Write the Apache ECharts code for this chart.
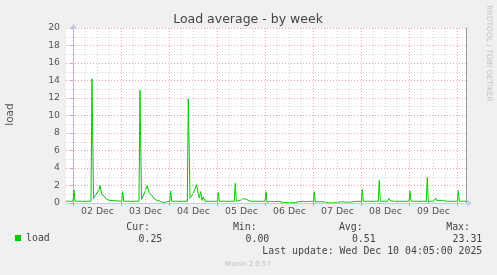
<!DOCTYPE html>
<html><head><meta charset="utf-8">
<script src="https://cdn.jsdelivr.net/npm/echarts@6/dist/echarts.min.js"></script>
<style>html,body{margin:0;padding:0;background:#f0f0f0}#c{width:497px;height:275px}</style>
</head><body><div id="c"></div>
<script>
// hours relative to 02 Dec 00:00
const hours = [-3.75,-0.25,0.25,0.75,3.75,4.25,4.75,8.75,9.25,10.0,10.75,11.25,11.9,12.6,13.25,14.1,14.6,15.25,15.75,16.6,17.4,18.25,19.1,
  24.1,24.6,25.1,32.75,33.25,34.0,35.0,35.75,36.9,37.75,38.6,39.4,40.25,41.6,42.75,43.75,44.9,45.75,
  48.1,48.6,49.1,56.9,57.4,58.25,59.0,59.9,60.75,61.6,62.4,62.9,63.6,64.25,64.9,65.75,66.6,67.4,68.25,69.1,
  71.9,72.4,72.9,80.4,80.9,81.4,82.4,83.4,84.9,85.9,86.6,88.25,
  95.75,96.25,96.75,97.5,98.5,99.5,100.5,101.5,102.5,103.5,105,108,111,112.5,113.5,114.5,115.5,116.5,117.5,118.5,119.9,
  120.4,120.9,122,123,124.5,126,127.5,129.5,131,132,133,134.5,136,137,138.5,140,141,142.5,143.9,
  144.4,144.9,152.4,152.9,153.4,155.5,156.25,157.0,157.75,158.5,159.5,160.5,
  167.75,168.25,168.75,176.4,176.9,177.4,178.5,179.1,180.0,181.1,181.6,182.5,183.75,185,186.25,
  191.9,192.4,192.9,196.25];
const load = [0.2,0.2,1.5,0.2,0.2,0.3,0.2,0.2,14.2,0.5,0.6,1.0,1.2,1.4,2.0,1.0,1.2,0.8,1.0,0.4,0.5,0.3,0.2,
  0.2,1.3,0.2,0.2,12.9,0.4,0.6,1.3,2.0,1.2,1.4,0.8,0.5,0.3,0.25,0.1,0.05,0.2,
  0.2,1.35,0.2,0.2,11.9,0.55,0.6,1.1,1.3,2.1,1.0,0.6,1.3,0.3,0.7,0.2,0.4,0.2,0.3,0.2,
  0.2,1.2,0.2,0.2,2.25,0.2,0.4,0.3,0.5,0.3,0.4,0.2,
  0.2,1.3,0.1,0.15,0.2,0.1,0.15,0.1,0.2,0.1,0.05,0.02,0.05,0.15,0.1,0.2,0.1,0.15,0.1,0.2,0.15,
  1.3,0.1,0.15,0.1,0.15,0.1,0.02,0.0,0.05,0.15,0.1,0.15,0.1,0.2,0.1,0.15,0.1,0.2,0.15,
  1.55,0.2,0.2,2.6,0.2,0.2,0.35,0.2,0.5,0.25,0.3,0.2,
  0.2,1.35,0.2,0.2,2.9,0.1,0.2,0.3,0.2,0.55,0.3,0.4,0.3,0.3,0.2,
  0.2,1.4,0.2,0.2];
const dayLabels = ['02 Dec','03 Dec','04 Dec','05 Dec','06 Dec','07 Dec','08 Dec','09 Dec'];
const labelHours = [12,36,60,84,108,132,156,180];
const midnightHours = [0,24,48,72,96,120,144,168,192];
const minorHours = [6,12,18,30,36,42,54,60,66,78,84,90,102,108,114,126,132,138,150,156,162,174,180,186];
const statLabels = ['Cur:','Min:','Avg:','Max:'];
const statValues = ['0.25','0.00','0.51','23.31'];
const lastUpdate = 'Last update: Wed Dec 10 04:05:00 2025';

const RED = 'rgba(225,90,90,0.55)';
const GRAY = '#d4d4d4';
const MONO = "'DejaVu Sans Mono', monospace";
const SANS = "'DejaVu Sans', sans-serif";

const labelX = [150, 256.7, 362.7, 470];
const valueX = [162.3, 269.3, 375.7, 482.3];

function txt(text, x, y, align, font, fill, rot) {
  return {type:'text', x:x, y:y, rotation:rot||0, silent:true,
    style:{text:text, x:0, y:0, font:font, fill:fill, align:align, verticalAlign:'middle', textAlign:align, textVerticalAlign:'middle'}};
}
const graphics = [
  txt('Load average - by week', 248, 19.5, 'center', '12.5px ' + SANS, '#444'),
  txt('load', 10, 114.5, 'center', '10.5px ' + SANS, '#555', Math.PI/2),
  txt('RRDTOOL / TOBI OETIKER', 489, 53.5, 'center', '7.5px ' + SANS, '#c4c4c4', -Math.PI/2),
  txt(lastUpdate, 482.3, 251.7, 'right', '9.9px ' + MONO, '#444'),
  txt('Munin 2.0.57', 248, 264, 'center', '7px ' + SANS, '#c0c0c0')
];
statLabels.forEach((s,i)=>graphics.push(txt(s, labelX[i], 227.3, 'right', '9.9px ' + MONO, '#444')));
statValues.forEach((s,i)=>graphics.push(txt(s, valueX[i], 239.3, 'right', '9.9px ' + MONO, '#444')));

const chart = echarts.init(document.getElementById('c'), null, {renderer:'canvas'});
chart.setOption({
  backgroundColor:'#f0f0f0',
  animation:false,
  textStyle:{fontFamily:SANS},
  grid:{left:66,right:31,top:28,bottom:72,show:true,backgroundColor:'#ffffff',borderWidth:0},
  legend:{data:['load'],left:15,top:233,padding:0,icon:'rect',itemWidth:6,itemHeight:6,
    textStyle:{fontFamily:MONO,fontSize:9.9,color:'#444'},selectedMode:false},
  xAxis:{type:'value',min:-3.75,max:196.25,
    axisLine:{show:true,lineStyle:{color:'#c8c8f4'},symbol:['none','arrow'],symbolSize:[6,5],symbolOffset:[0,5.5]},
    axisTick:{show:true,customValues:midnightHours,length:3,lineStyle:{color:RED}},
    axisLabel:{customValues:labelHours,formatter:v=>dayLabels[labelHours.indexOf(v)]||'',fontSize:9.3,color:'#555',margin:4},
    splitLine:{show:false}},
  yAxis:[{type:'value',min:0,max:20,interval:2,
    axisLine:{show:true,lineStyle:{color:'#c8c8f4'},symbol:['none','arrow'],symbolSize:[6,5],symbolOffset:[0,4]},
    axisTick:{show:true,length:3,lineStyle:{color:'#aaa'}},
    axisLabel:{fontSize:9.3,color:'#555',margin:6},
    splitLine:{show:true,lineStyle:{color:RED,type:[1,2]}},
    minorTick:{show:true,splitNumber:2,length:2,lineStyle:{color:'#ccc'}},
    minorSplitLine:{show:true,lineStyle:{color:GRAY,type:[1,2]}}},
   {type:'value',min:0,max:20,interval:2,position:'right',
    axisLine:{show:true,lineStyle:{color:'#999'}},axisTick:{show:false},axisLabel:{show:false},splitLine:{show:false}}],
  series:[
    {type:'line',name:'grid',data:[],silent:true,z:1,
     markLine:{silent:true,symbol:['none','none'],animation:false,label:{show:false},
       data:[...minorHours.map(h=>({xAxis:h,lineStyle:{color:GRAY,type:[1,2],width:1}})),
             ...midnightHours.map(h=>({xAxis:h,lineStyle:{color:RED,type:[1,2],width:1}}))]}},
    {type:'line',name:'load',data:hours.map((h,i)=>[h,load[i]]),showSymbol:false,symbol:'none',z:3,
     lineStyle:{color:'#00cc00',width:1},itemStyle:{color:'#00cc00'}}
  ],
  graphic:graphics
});
</script></body></html>
